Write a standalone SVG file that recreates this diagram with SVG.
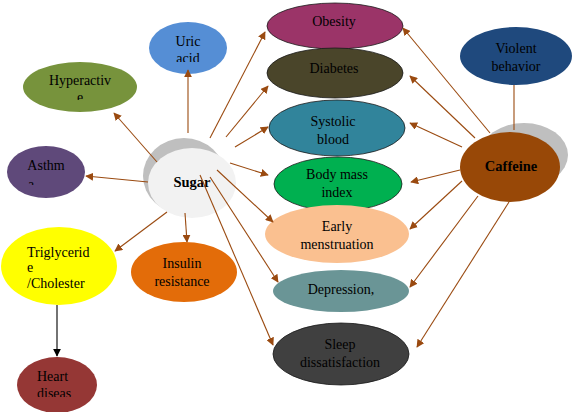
<svg xmlns="http://www.w3.org/2000/svg" width="574" height="412" viewBox="0 0 574 412">
<style>
text{font-family:"Liberation Serif","Times New Roman",serif;font-size:14px;fill:#000;text-anchor:middle}
.b{font-weight:bold;font-size:14.5px}
.l{text-anchor:start}
.ol{stroke:#1a1a1a;stroke-width:0.8}
.c{stroke:#9a4a10;stroke-width:1.1;fill:none;marker-end:url(#a)}
.cn{stroke:#9a4a10;stroke-width:1.1;fill:none}
.k{stroke:#000;stroke-width:1.1;fill:none;marker-end:url(#ak)}
</style>
<defs>
<marker id="a" viewBox="0 0 10 10" refX="9" refY="5" markerWidth="8" markerHeight="8" markerUnits="userSpaceOnUse" orient="auto">
<path d="M0,0 L10,5 L0,10 z" fill="#9a4a10"/>
</marker>
<marker id="ak" viewBox="0 0 10 10" refX="9" refY="5" markerWidth="8" markerHeight="8" markerUnits="userSpaceOnUse" orient="auto">
<path d="M0,0 L10,5 L0,10 z" fill="#000"/>
</marker>
<clipPath id="cUric"><rect x="140" y="20" width="100" height="42"/></clipPath>
<clipPath id="cHyp"><rect x="20" y="60" width="120" height="40"/></clipPath>
<clipPath id="cAst"><rect x="5" y="140" width="85" height="45"/></clipPath>
<clipPath id="cHeart"><rect x="15" y="355" width="80" height="42"/></clipPath>
</defs>
<rect width="574" height="412" fill="#fff"/>

<g id="uric">
<ellipse cx="188" cy="48" rx="39" ry="26" fill="#558ED5"/>
<g clip-path="url(#cUric)"><text x="188" y="46">Uric</text><text x="188" y="63">acid</text></g>
</g>
<g id="hyperactive">
<ellipse cx="80" cy="87" rx="57" ry="25" fill="#77933C"/>
<g clip-path="url(#cHyp)"><text x="80" y="85">Hyperactiv</text><text x="80" y="102">e</text></g>
</g>
<g id="asthma">
<ellipse cx="46" cy="172" rx="39" ry="26" fill="#5F497A"/>
<g clip-path="url(#cAst)"><text x="46" y="170">Asthm</text><text x="28" y="189" class="l">a</text></g>
</g>
<g id="sugar">
<ellipse cx="184" cy="176" rx="41" ry="38" fill="#BFBFBF"/>
<ellipse cx="192" cy="183" rx="44" ry="35" fill="#F2F2F2"/>
<text x="192" y="187" class="b">Sugar</text>
</g>
<g id="triglyceride">
<ellipse cx="59" cy="266" rx="58" ry="39" fill="#FFFF00"/>
<text x="27" y="257" class="l">Triglycerid</text>
<text x="27" y="272" class="l">e</text>
<text x="27" y="288" class="l">/Cholester</text>
</g>
<g id="insulin">
<ellipse cx="184" cy="272" rx="53" ry="30" fill="#E36C09"/>
<text x="182" y="268">Insulin</text>
<text x="182" y="286">resistance</text>
</g>
<g id="heart">
<ellipse cx="57" cy="385" rx="40" ry="28" fill="#953735"/>
<g clip-path="url(#cHeart)"><text x="37" y="381" class="l">Heart</text><text x="37" y="398" class="l">diseas</text></g>
</g>

<g id="obesity">
<ellipse cx="335" cy="26" rx="68" ry="23" fill="#9B3468" class="ol"/>
<text x="334" y="26">Obesity</text>
</g>
<g id="diabetes">
<ellipse cx="335" cy="73" rx="68" ry="25" fill="#4A452A" class="ol"/>
<text x="334" y="73">Diabetes</text>
</g>
<g id="systolic">
<ellipse cx="337" cy="128" rx="68" ry="28" fill="#31849B" class="ol"/>
<text x="333" y="126">Systolic</text>
<text x="333" y="144">blood</text>
</g>
<g id="bmi">
<ellipse cx="338" cy="184" rx="64" ry="27" fill="#00B050" class="ol"/>
<text x="337" y="179">Body mass</text>
<text x="337" y="197">index</text>
</g>
<g id="early">
<ellipse cx="337" cy="234" rx="72" ry="29" fill="#FAC090"/>
<text x="337" y="231">Early</text>
<text x="337" y="249">menstruation</text>
</g>
<g id="depression">
<ellipse cx="341" cy="291" rx="68" ry="21" fill="#6A9596"/>
<text x="341" y="294">Depression,</text>
</g>
<g id="sleep">
<ellipse cx="341" cy="354" rx="68" ry="31" fill="#404040" class="ol"/>
<text x="340" y="349">Sleep</text>
<text x="340" y="367">dissatisfaction</text>
</g>
<g id="violent">
<ellipse cx="516" cy="56" rx="56" ry="29" fill="#1F497D"/>
<text x="516" y="53">Violent</text>
<text x="516" y="71">behavior</text>
</g>
<g id="caffeine">
<ellipse cx="524" cy="155" rx="44" ry="32" fill="#BFBFBF"/>
<ellipse cx="510" cy="167" rx="50" ry="35" fill="#984807"/>
<text x="511" y="171" class="b">Caffeine</text>
</g>

<g id="connectors">
<path class="c" d="M188,133 L188,70"/>
<path class="c" d="M157,162 L114,113"/>
<path class="c" d="M148,182 L86,176"/>
<path class="c" d="M210,138 L265,32"/>
<path class="c" d="M226,137 L268,86"/>
<path class="c" d="M235,147 L268,127"/>
<path class="c" d="M230,163 L268,175"/>
<path class="c" d="M217,170 L273,222"/>
<path class="c" d="M210,177 L278,282"/>
<path class="c" d="M200,175 L273,345"/>
<path class="c" d="M185,213 L187,242"/>
<path class="c" d="M167,212 L115,251"/>
<path class="k" d="M57,305 L57,356"/>
<path class="cn" d="M514,85 L514,130"/>
<path class="c" d="M490,133 L403,28"/>
<path class="c" d="M475,138 L410,76"/>
<path class="c" d="M462,147 L410,123"/>
<path class="c" d="M460,170 L411,182"/>
<path class="c" d="M462,181 L410,229"/>
<path class="c" d="M478,196 L410,287"/>
<path class="c" d="M509,202 L417,347"/>
</g>
</svg>
